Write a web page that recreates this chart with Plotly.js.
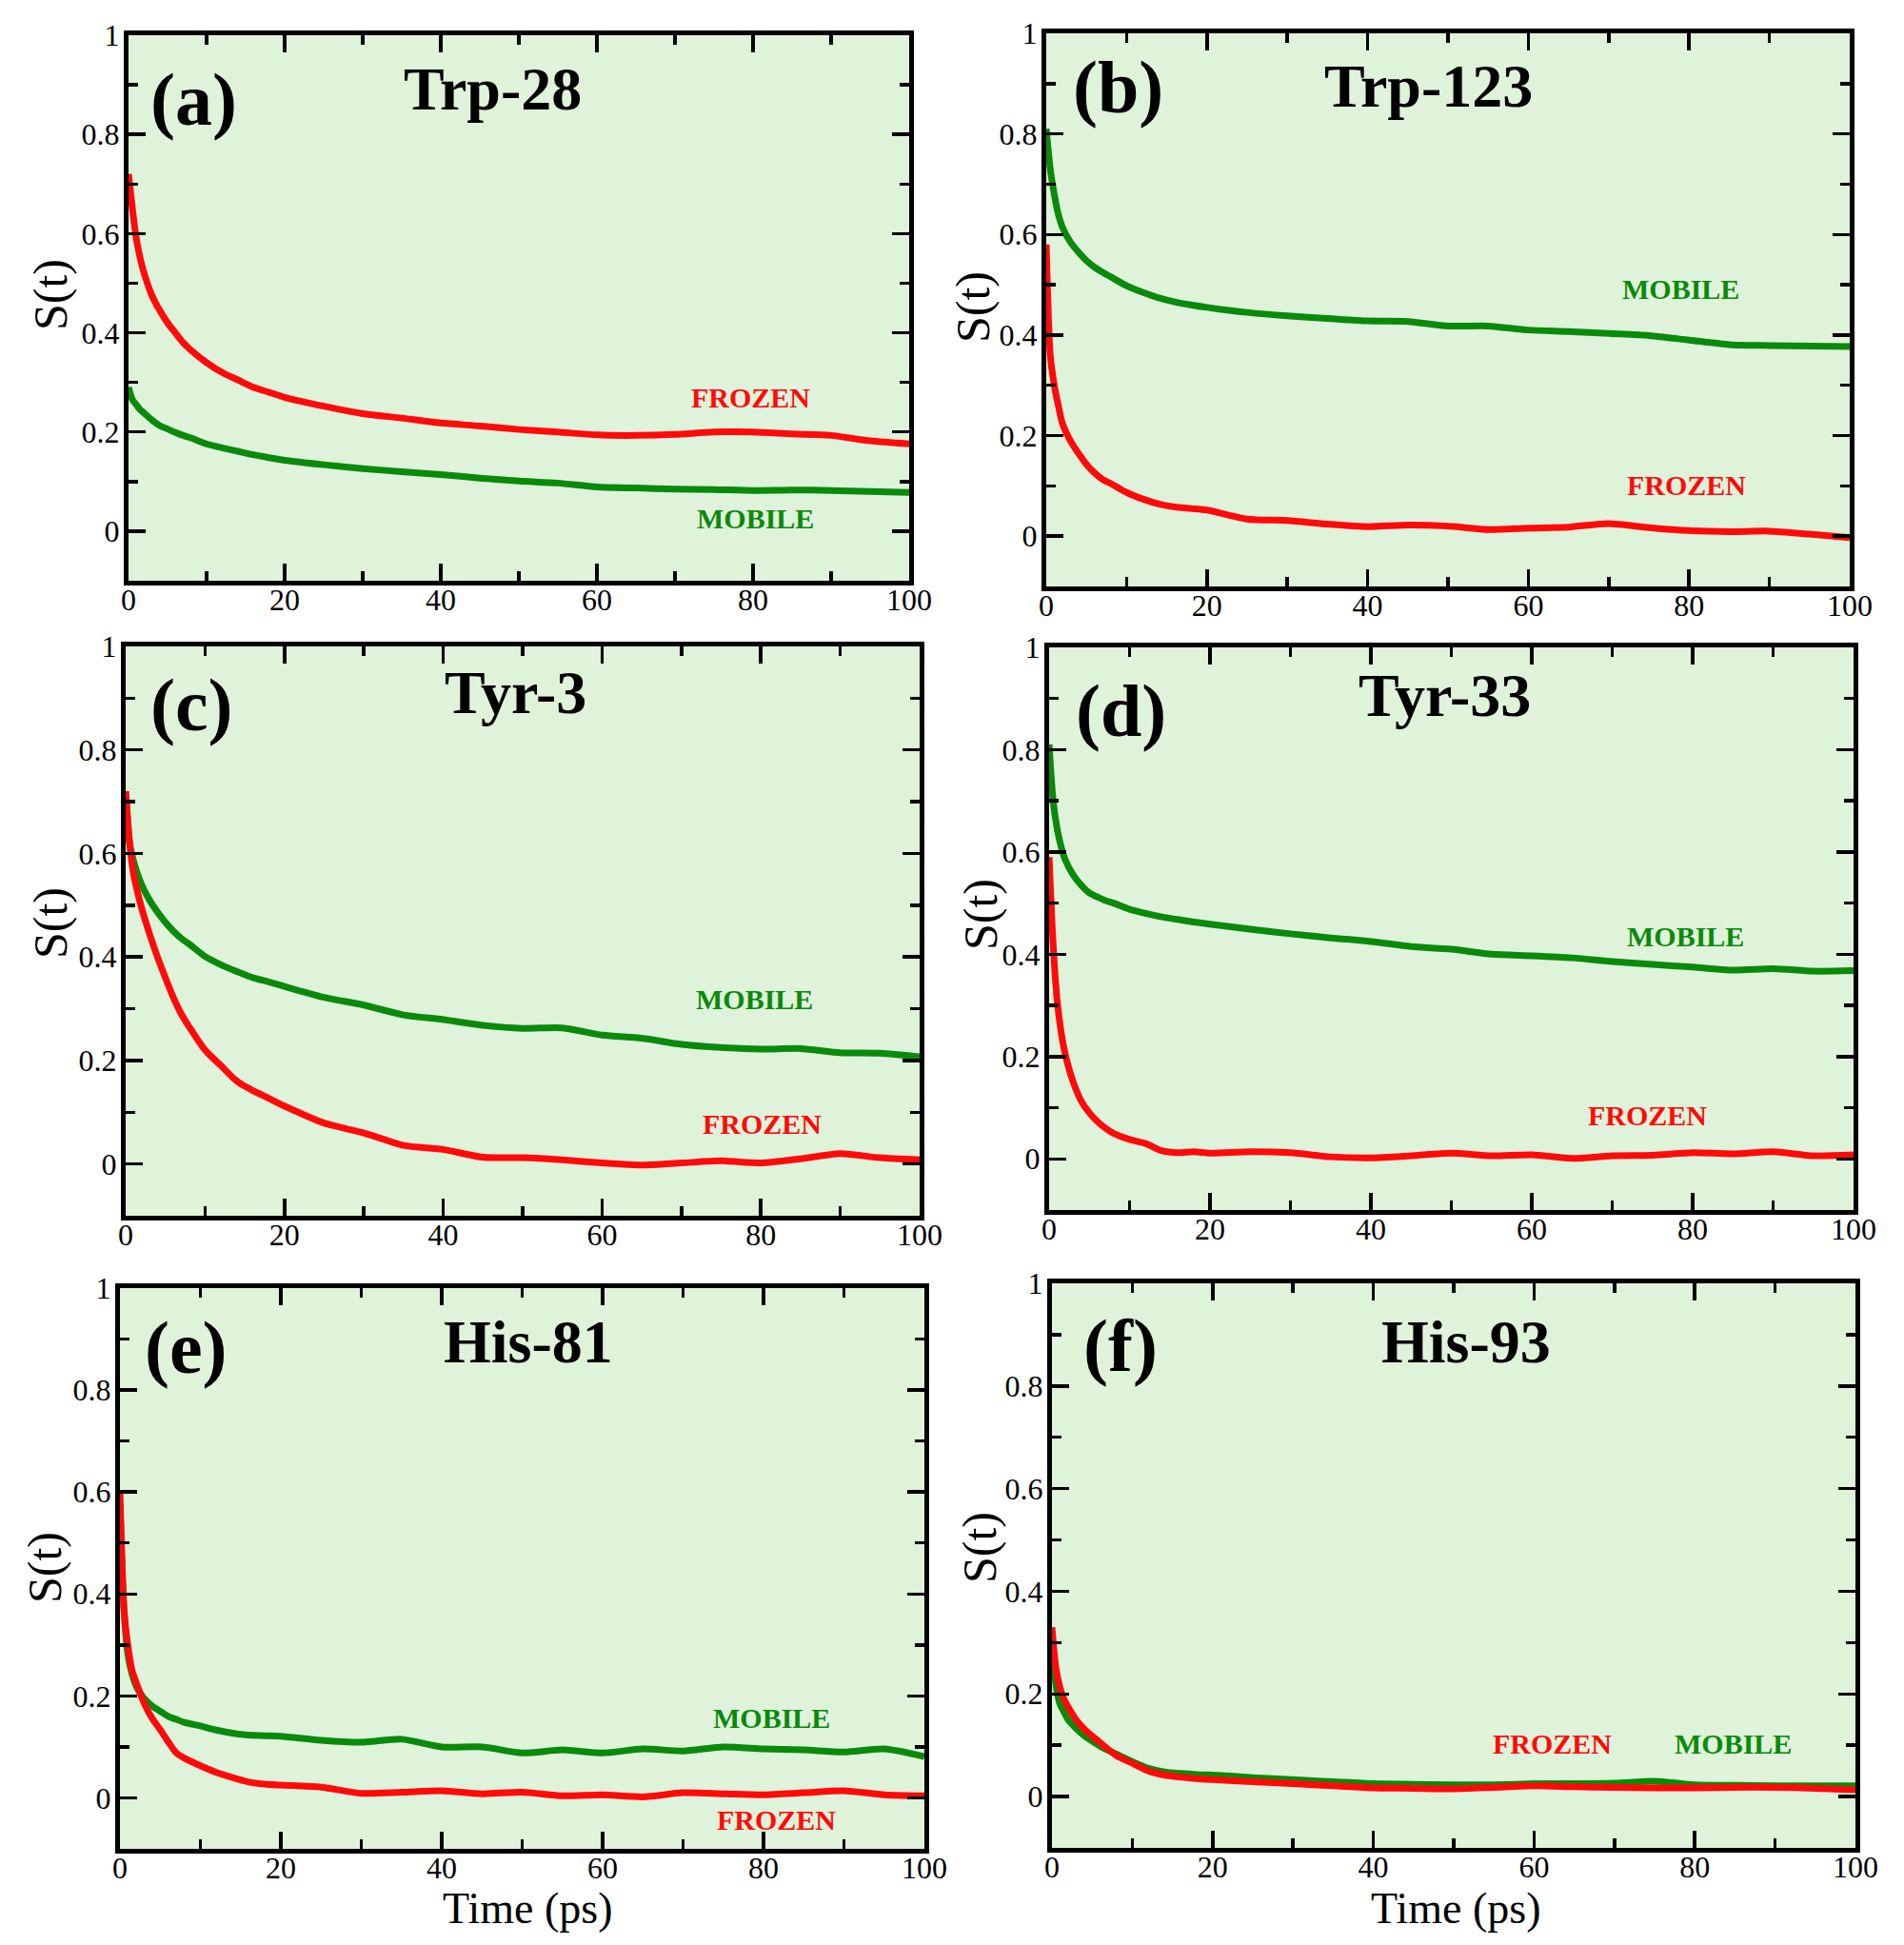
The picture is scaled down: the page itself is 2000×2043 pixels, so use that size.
<!DOCTYPE html>
<html>
<head>
<meta charset="utf-8">
<script src="https://cdn.plot.ly/plotly-3.0.1.min.js"></script>
<style>
  html, body { margin: 0; padding: 0; background: #ffffff; }
  #chart { width: 2000px; height: 2043px; }
</style>
</head>
<body>
<div id="chart"></div>
<script>
// ---------------- DATA ----------------
const timePs = [0, 0.5, 1, 1.5, 2, 3, 4, 5, 6, 7, 8, 10, 12, 14, 16, 18, 20, 25, 30, 35, 40, 45, 50, 55, 60, 65, 70, 75, 80, 85, 90, 95, 100];

const xTicks = [0, 20, 40, 60, 80, 100];
const yTickLabels = ["0", "0.2", "0.4", "0.6", "0.8", "1"];

const panelTitles = ["Trp-28", "Trp-123", "Tyr-3", "Tyr-33", "His-81", "His-93"];
const panelLetters = ["(a)", "(b)", "(c)", "(d)", "(e)", "(f)"];

// (a) Trp-28
const trp28Frozen = [0.72, 0.65, 0.59, 0.55, 0.52, 0.475, 0.445, 0.42, 0.40, 0.38, 0.365, 0.34, 0.32, 0.305, 0.29, 0.28, 0.27, 0.252, 0.237, 0.228, 0.218, 0.212, 0.205, 0.20, 0.194, 0.193, 0.195, 0.20, 0.20, 0.196, 0.193, 0.182, 0.176];
const trp28Mobile = [0.29, 0.265, 0.255, 0.245, 0.238, 0.224, 0.213, 0.206, 0.199, 0.193, 0.188, 0.176, 0.168, 0.161, 0.154, 0.148, 0.143, 0.134, 0.126, 0.12, 0.114, 0.107, 0.101, 0.097, 0.089, 0.087, 0.085, 0.084, 0.082, 0.083, 0.082, 0.08, 0.078];
// (b) Trp-123
const trp123Frozen = [0.58, 0.36, 0.30, 0.26, 0.225, 0.19, 0.165, 0.143, 0.126, 0.113, 0.105, 0.087, 0.074, 0.064, 0.058, 0.055, 0.052, 0.034, 0.031, 0.024, 0.019, 0.022, 0.02, 0.013, 0.016, 0.018, 0.025, 0.017, 0.011, 0.009, 0.01, 0.004, -0.003];
const trp123Mobile = [0.81, 0.73, 0.68, 0.64, 0.615, 0.585, 0.565, 0.548, 0.535, 0.525, 0.516, 0.498, 0.485, 0.474, 0.466, 0.46, 0.455, 0.445, 0.438, 0.433, 0.428, 0.427, 0.418, 0.418, 0.41, 0.407, 0.403, 0.399, 0.39, 0.381, 0.379, 0.378, 0.377];
// (c) Tyr-3
const tyr3Frozen = [0.72, 0.62, 0.56, 0.525, 0.495, 0.445, 0.40, 0.36, 0.322, 0.29, 0.265, 0.22, 0.19, 0.16, 0.142, 0.127, 0.112, 0.079, 0.06, 0.036, 0.028, 0.013, 0.012, 0.008, 0.002, -0.002, 0.002, 0.006, 0.002, 0.01, 0.02, 0.012, 0.008];
const tyr3Mobile = [0.72, 0.62, 0.585, 0.56, 0.54, 0.51, 0.487, 0.467, 0.45, 0.436, 0.425, 0.401, 0.385, 0.372, 0.36, 0.352, 0.343, 0.322, 0.307, 0.288, 0.279, 0.268, 0.262, 0.263, 0.249, 0.243, 0.231, 0.225, 0.222, 0.223, 0.215, 0.214, 0.207];
// (d) Tyr-33
const tyr33Frozen = [0.59, 0.42, 0.31, 0.247, 0.205, 0.15, 0.113, 0.09, 0.073, 0.06, 0.05, 0.038, 0.03, 0.016, 0.012, 0.014, 0.011, 0.014, 0.012, 0.004, 0.002, 0.006, 0.011, 0.006, 0.008, 0.001, 0.006, 0.007, 0.012, 0.01, 0.014, 0.006, 0.008];
const tyr33Mobile = [0.81, 0.70, 0.645, 0.61, 0.585, 0.555, 0.535, 0.52, 0.512, 0.505, 0.50, 0.488, 0.48, 0.473, 0.468, 0.463, 0.459, 0.449, 0.44, 0.432, 0.425, 0.415, 0.41, 0.40, 0.397, 0.393, 0.386, 0.38, 0.375, 0.369, 0.372, 0.367, 0.368];
// (e) His-81
const his81Frozen = [0.60, 0.37, 0.297, 0.25, 0.227, 0.186, 0.156, 0.134, 0.11, 0.088, 0.078, 0.063, 0.05, 0.04, 0.031, 0.027, 0.025, 0.021, 0.009, 0.011, 0.014, 0.008, 0.011, 0.004, 0.006, 0.002, 0.01, 0.008, 0.006, 0.01, 0.014, 0.006, 0.004];
const his81Mobile = [0.58, 0.37, 0.28, 0.243, 0.22, 0.195, 0.18, 0.17, 0.16, 0.154, 0.148, 0.141, 0.133, 0.127, 0.123, 0.122, 0.121, 0.113, 0.109, 0.115, 0.10, 0.10, 0.088, 0.094, 0.088, 0.096, 0.092, 0.10, 0.096, 0.094, 0.09, 0.096, 0.081];
// (f) His-93
const his93Frozen = [0.33, 0.25, 0.212, 0.19, 0.175, 0.15, 0.132, 0.118, 0.105, 0.092, 0.08, 0.065, 0.05, 0.042, 0.038, 0.035, 0.033, 0.029, 0.025, 0.021, 0.017, 0.016, 0.015, 0.018, 0.021, 0.019, 0.018, 0.017, 0.017, 0.018, 0.018, 0.016, 0.013];
const his93Mobile = [0.29, 0.217, 0.18, 0.165, 0.15, 0.133, 0.119, 0.108, 0.098, 0.09, 0.083, 0.068, 0.055, 0.048, 0.045, 0.043, 0.042, 0.037, 0.033, 0.029, 0.025, 0.024, 0.023, 0.023, 0.025, 0.025, 0.026, 0.03, 0.023, 0.022, 0.021, 0.021, 0.021];

const frozenSeries = [trp28Frozen, trp123Frozen, tyr3Frozen, tyr33Frozen, his81Frozen, his93Frozen];
const mobileSeries = [trp28Mobile, trp123Mobile, tyr3Mobile, tyr33Mobile, his81Mobile, his93Mobile];

// ---------------- LAYOUT (pixel boxes of each panel frame) ----------------
const W = 2000, H = 2043;
const boxes = [
  {x0: 135, x1: 955, y0: 37, y1: 610},
  {x0: 1099, x1: 1943, y0: 35, y1: 616},
  {x0: 132, x1: 966, y0: 679, y1: 1277},
  {x0: 1102, x1: 1947, y0: 680, y1: 1271},
  {x0: 126, x1: 971, y0: 1353, y1: 1942},
  {x0: 1105, x1: 1949, y0: 1348, y1: 1941}
];
// text positions (px): letter, title, y-axis title, FROZEN label, MOBILE label
const textPos = [
  {letter: [203, 104], title: [517, 94], ytitle: [53, 310], frozen: [788, 418], mobile: [793, 545]},
  {letter: [1174, 92], title: [1500, 90], ytitle: [1022, 323], frozen: [1771, 509], mobile: [1765, 304]},
  {letter: [201, 741], title: [541, 728], ytitle: [53, 970], frozen: [800, 1180], mobile: [792, 1049]},
  {letter: [1177, 747], title: [1517, 731], ytitle: [1030, 961], frozen: [1730, 1171], mobile: [1770, 984]},
  {letter: [195, 1415], title: [555, 1409], ytitle: [47, 1647], frozen: [815, 1911], mobile: [810, 1804]},
  {letter: [1177, 1413], title: [1540, 1409], ytitle: [1029, 1626], frozen: [1630, 1831], mobile: [1820, 1831]}
];
const xTitlePos = [[554, 2004], [1529, 2004]];

const RED = '#ff0a0a';
const GREEN = '#0a8a0a';
const BG = '#dff2da';
const SERIF = 'Liberation Serif, Times New Roman, serif';

const px = v => v / W;
const py = v => 1 - v / H;

const traces = [];
const layout = {
  width: W, height: H,
  margin: {l: 0, r: 0, t: 0, b: 0},
  paper_bgcolor: '#ffffff',
  plot_bgcolor: BG,
  showlegend: false,
  annotations: []
};

boxes.forEach((b, i) => {
  const n = i === 0 ? '' : String(i + 1);
  const xa = 'x' + n, ya = 'y' + n;
  traces.push({
    x: timePs, y: mobileSeries[i], xaxis: xa, yaxis: ya,
    type: 'scatter', mode: 'lines', name: 'MOBILE',
    line: {color: GREEN, width: 7, shape: 'spline', smoothing: 0.7}
  });
  traces.push({
    x: timePs, y: frozenSeries[i], xaxis: xa, yaxis: ya,
    type: 'scatter', mode: 'lines', name: 'FROZEN',
    line: {color: RED, width: 7, shape: 'spline', smoothing: 0.7}
  });
  layout['xaxis' + n] = {
    domain: [px(b.x0), px(b.x1)], anchor: ya,
    range: [0, 100], tickmode: 'array', tickvals: xTicks, ticktext: xTicks.map(String),
    ticks: 'inside', ticklen: 18, tickwidth: 3.5, tickcolor: '#000',
    minor: {ticks: 'inside', dtick: 10, tick0: 0, ticklen: 10, tickwidth: 3.5, tickcolor: '#000', showgrid: false},
    showline: true, linewidth: 5, linecolor: '#000', mirror: 'allticks',
    showgrid: false, zeroline: false, ticklabelstandoff: -12,
    tickfont: {family: SERIF, size: 32, color: '#000'}
  };
  layout['yaxis' + n] = {
    domain: [py(b.y1), py(b.y0)], anchor: xa,
    range: [-0.1, 1], tickmode: 'array', tickvals: [0, 0.2, 0.4, 0.6, 0.8, 1], ticktext: yTickLabels,
    ticks: 'inside', ticklen: 18, tickwidth: 3.5, tickcolor: '#000',
    minor: {ticks: 'inside', dtick: 0.1, tick0: 0, ticklen: 10, tickwidth: 3.5, tickcolor: '#000', showgrid: false},
    showline: true, linewidth: 5, linecolor: '#000', mirror: 'allticks',
    showgrid: false, zeroline: false, ticklabelstandoff: -2,
    tickfont: {family: SERIF, size: 32, color: '#000'}
  };
  const tp = textPos[i];
  const A = layout.annotations;
  A.push({xref: 'paper', yref: 'paper', x: px(tp.letter[0]), y: py(tp.letter[1]), xanchor: 'center', yanchor: 'middle',
          text: '<b>' + panelLetters[i] + '</b>', showarrow: false, font: {family: SERIF, size: 78, color: '#000'}});
  A.push({xref: 'paper', yref: 'paper', x: px(tp.title[0]), y: py(tp.title[1]), xanchor: 'center', yanchor: 'middle',
          text: '<b>' + panelTitles[i] + '</b>', showarrow: false, font: {family: SERIF, size: 64, color: '#000'}});
  A.push({xref: 'paper', yref: 'paper', x: px(tp.ytitle[0]), y: py(tp.ytitle[1]), xanchor: 'center', yanchor: 'middle',
          text: 'S(t)', textangle: -90, showarrow: false, font: {family: SERIF, size: 50, color: '#000'}});
  A.push({xref: 'paper', yref: 'paper', x: px(tp.frozen[0]), y: py(tp.frozen[1]), xanchor: 'center', yanchor: 'middle',
          text: '<b>FROZEN</b>', showarrow: false, font: {family: SERIF, size: 30, color: RED}});
  A.push({xref: 'paper', yref: 'paper', x: px(tp.mobile[0]), y: py(tp.mobile[1]), xanchor: 'center', yanchor: 'middle',
          text: '<b>MOBILE</b>', showarrow: false, font: {family: SERIF, size: 30, color: GREEN}});
});
xTitlePos.forEach(p => {
  layout.annotations.push({xref: 'paper', yref: 'paper', x: px(p[0]), y: py(p[1]), xanchor: 'center', yanchor: 'middle',
    text: 'Time (ps)', showarrow: false, font: {family: SERIF, size: 46, color: '#000'}});
});

Plotly.newPlot('chart', traces, layout, {displayModeBar: false, staticPlot: true});
</script>
</body>
</html>
